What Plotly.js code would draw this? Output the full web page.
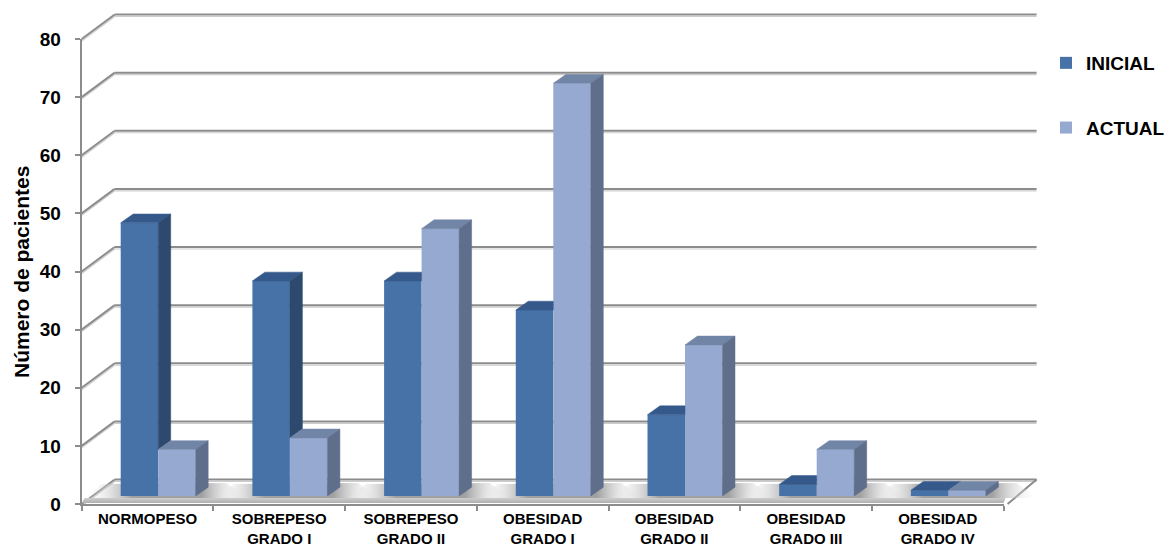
<!DOCTYPE html>
<html><head><meta charset="utf-8">
<script src="https://cdn.plot.ly/plotly-3.0.1.min.js"></script>
<style>html,body{margin:0;padding:0;background:#fff}#chart{width:1172px;height:547px}</style>
</head><body><div id="chart"></div>
<script>
// ---- data ----
const categories = ['NORMOPESO','SOBREPESO<br>GRADO I','SOBREPESO<br>GRADO II','OBESIDAD<br>GRADO I','OBESIDAD<br>GRADO II','OBESIDAD<br>GRADO III','OBESIDAD<br>GRADO IV'];
const inicial = [47, 37, 37, 32, 14, 2, 1];
const actual  = [8, 10, 46, 71, 26, 8, 1];
const seriesNames = ['INICIAL', 'ACTUAL'];
const yTickValues = [0, 10, 20, 30, 40, 50, 60, 70, 80];
const yAxisTitle = 'Número de pacientes';

// ---- geometry (pixels) ----
const W = 1172, H = 547;
const px = x => x / W, py = y => 1 - y / H;
const NCAT = categories.length;
const CAT_W = 131.7;
const FRONT_X0 = 81.7, FRONT_Y0 = 504;
const BACK_DX = 33, BACK_Y0 = 479.5;
const BAR_X0 = 92.35, BAR_Y0 = 496;
const PXU = 5.8125;          // pixels per value unit
const YMAX = 80;
const BAR_W = 37.5 / CAT_W;  // bar width in category units
const DX = 12.5 / CAT_W, DY = 8.8 / PXU;  // bar depth in data units
const FONT = 'Liberation Sans, Arial, sans-serif';
const GRID = '#8c8c8c', GRID_SH = '#cdcdcd';

const colors = {
  front: ['#4672A8', '#95A9D1'],
  top:   ['#35598A', '#7185A6'],
  side:  ['#2D4A6E', '#5E6E8B']
};

const xIdx = categories.map((_, i) => i);
const barPxX = u => BAR_X0 + (u + 0.5) * CAT_W;

// ---- front faces: real bar traces ----
const series = [inicial, actual];
const traces = series.map((vals, s) => ({
  type: 'bar', name: seriesNames[s], x: xIdx, y: vals,
  xaxis: 'x2', yaxis: 'y2', legendgroup: 'g' + s,
  marker: {color: colors.front[s], line: {width: 0}},
  customdata: categories.map(c => c.replace('<br>', ' ')),
  hovertemplate: '%{customdata}<br>' + seriesNames[s] + ': %{y}<extra></extra>'
}));

// ---- 3D top/side faces computed from the data ----
function clip(poly, f) {
  const out = [];
  for (let k = 0; k < poly.length; k++) {
    const a = poly[k], b = poly[(k + 1) % poly.length];
    const fa = f(a), fb = f(b);
    if (fa >= 0) out.push(a);
    if ((fa >= 0) !== (fb >= 0)) {
      const t = fa / (fa - fb);
      out.push([a[0] + t * (b[0] - a[0]), a[1] + t * (b[1] - a[1])]);
    }
  }
  return out;
}
function polysToXY(polys) {
  const x = [], y = [];
  polys.forEach(p => {
    if (p.length < 3) return;
    p.forEach(q => { x.push(q[0]); y.push(q[1]); });
    x.push(p[0][0]); y.push(p[0][1]);
    x.push(null); y.push(null);
  });
  return {x, y};
}
const faces = {top: [[], []], side: [[], []]};
xIdx.forEach(i => {
  {
    const xL = i - BAR_W, xR = i, v = inicial[i], a = actual[i];
    const top = [[xL, v], [xR, v], [xR + DX, v + DY], [xL + DX, v + DY]];
    if (a <= v) faces.top[0].push(top);
    else {
      faces.top[0].push(clip(top, p => xR - p[0]));
      if (a < v + DY) faces.top[0].push(clip(clip(top, p => p[0] - xR), p => p[1] - a));
    }
    if (v > a) faces.side[0].push([[xR, a], [xR, v], [xR + DX, v + DY], [xR + DX, a + DY]]);
  }
  {
    const xL = i, xR = i + BAR_W, v = actual[i];
    faces.top[1].push([[xL, v], [xR, v], [xR + DX, v + DY], [xL + DX, v + DY]]);
    faces.side[1].push([[xR, 0], [xR, v], [xR + DX, v + DY], [xR + DX, DY]]);
  }
});
const faceTraces = [];
[0, 1].forEach(s => {
  ['top', 'side'].forEach(kind => {
    const xy = polysToXY(faces[kind][s]);
    faceTraces.push({
      type: 'scatter', mode: 'lines', x: xy.x, y: xy.y, xaxis: 'x2', yaxis: 'y2',
      fill: 'toself', fillcolor: colors[kind][s],
      line: {color: colors[kind][s], width: 0.5},
      hoverinfo: 'skip', showlegend: false
    });
  });
});

// ---- floor shading (decoration, pixel helper axes) ----
const FLOOR_FRONT = 498;
const shadowTraces = xIdx.map(i => {
  const xl = barPxX(i - BAR_W), xr = barPxX(i + BAR_W) + 12.5;
  const pts = [[xl - 38, FLOOR_FRONT], [xr + 40, FLOOR_FRONT], [xr + 18, 483], [xl - 18, 484]];
  const xy = polysToXY([pts]);
  return {
    type: 'scatter', mode: 'lines', x: xy.x, y: xy.y, xaxis: 'x', yaxis: 'y',
    fill: 'toself', line: {width: 0},
    fillgradient: {type: 'horizontal', colorscale: [
      [0, 'rgba(255,255,255,0)'], [0.3, 'rgba(150,150,150,0.9)'],
      [0.72, 'rgba(150,150,150,0.9)'], [1, 'rgba(255,255,255,0)']]},
    hoverinfo: 'skip', showlegend: false
  };
});
// floor front strip
const stripXY = polysToXY([[[FRONT_X0 + 3, FLOOR_FRONT], [FRONT_X0 + NCAT * CAT_W + 2, FLOOR_FRONT],
  [FRONT_X0 + NCAT * CAT_W, FRONT_Y0 - 1], [FRONT_X0, FRONT_Y0 - 1]]]);
const stripTrace = {
  type: 'scatter', mode: 'lines', x: stripXY.x, y: stripXY.y, xaxis: 'x', yaxis: 'y',
  fill: 'toself', line: {width: 0},
  fillgradient: {type: 'vertical', colorscale: [[0, 'rgba(175,175,175,1)'], [1, 'rgba(205,205,205,1)']]},
  hoverinfo: 'skip', showlegend: false
};

// dummy trace for front axes
const frontTrace = {type: 'scatter', x: [], y: [], xaxis: 'x3', yaxis: 'y3', showlegend: false, hoverinfo: 'skip'};

// ---- walls / gridlines as shapes ----
const shapes = [];
function pline(x0, y0, x1, y1, color, width) {
  shapes.push({type: 'line', xref: 'paper', yref: 'paper', layer: 'below',
    x0: px(x0), y0: py(y0), x1: px(x1), y1: py(y1), line: {color, width}});
}
const backX0 = FRONT_X0 + BACK_DX, backX1 = backX0 + NCAT * CAT_W;
yTickValues.forEach(v => {
  const yb = BACK_Y0 - v * PXU, yf = FRONT_Y0 - v * PXU;
  pline(FRONT_X0, yf + 2, backX0, yb + 2, GRID_SH, 1.2);
  pline(backX0, yb + 2, backX1, yb + 2, GRID_SH, 1.2);
  pline(FRONT_X0, yf, backX0, yb, GRID, 2);
  pline(backX0, yb, backX1, yb, GRID, 2);
});
pline(backX1, BACK_Y0, backX1 - BACK_DX + 4, FRONT_Y0, GRID, 2);

const axisFont = {family: FONT, size: 19, color: '#000', weight: 700};

const layout = {
  width: W, height: H,
  margin: {l: 0, r: 0, t: 0, b: 0, pad: 0},
  paper_bgcolor: '#fff', plot_bgcolor: 'rgba(0,0,0,0)',
  barmode: 'group', bargap: 1 - 2 * BAR_W, bargroupgap: 0,
  showlegend: true,
  legend: {x: px(1046), xanchor: 'left', y: py(44), yanchor: 'top',
    font: {family: FONT, size: 19, color: '#000', weight: 700},
    tracegroupgap: 37, bgcolor: 'rgba(0,0,0,0)'},
  xaxis: {domain: [0, 1], range: [0, W], visible: false, fixedrange: true},
  yaxis: {domain: [0, 1], range: [H, 0], visible: false, fixedrange: true},
  xaxis2: {domain: [px(BAR_X0), px(BAR_X0 + NCAT * CAT_W)], range: [-0.5, NCAT - 0.5],
    visible: false, anchor: 'y2', fixedrange: true},
  yaxis2: {domain: [py(BAR_Y0), py(BAR_Y0 - YMAX * PXU)], range: [0, YMAX],
    visible: false, anchor: 'x2', fixedrange: true},
  xaxis3: {domain: [px(FRONT_X0), px(FRONT_X0 + NCAT * CAT_W)], range: [-0.5, NCAT - 0.5],
    anchor: 'y3', showline: true, linecolor: GRID, linewidth: 2, showgrid: false, zeroline: false,
    tickmode: 'array', tickvals: xIdx, ticktext: categories, ticks: '', ticklabelstandoff: 0,
    tickfont: {family: FONT, size: 15, color: '#000', weight: 700},
    minor: {ticks: 'outside', ticklen: 5, tickwidth: 1.5, tickcolor: GRID, tick0: 0.5, dtick: 1, showgrid: false},
    fixedrange: true},
  yaxis3: {domain: [py(FRONT_Y0), py(FRONT_Y0 - YMAX * PXU)], range: [0, YMAX],
    anchor: 'x3', showline: true, linecolor: GRID, linewidth: 2, showgrid: false, zeroline: false,
    tickmode: 'array', tickvals: yTickValues, ticks: 'outside', ticklen: 5, tickwidth: 1.5, tickcolor: GRID,
    ticklabelstandoff: 10, tickfont: axisFont, fixedrange: true},
  shapes,
  annotations: [{text: yAxisTitle, xref: 'paper', yref: 'paper', x: px(21), y: py(272),
    xanchor: 'center', yanchor: 'middle', textangle: -90, showarrow: false,
    font: {family: FONT, size: 21, color: '#000', weight: 700}}]
};

Plotly.newPlot('chart', [...traces, stripTrace, ...shadowTraces, ...faceTraces, frontTrace], layout,
  {displayModeBar: false, staticPlot: false, responsive: false});
</script></body></html>
